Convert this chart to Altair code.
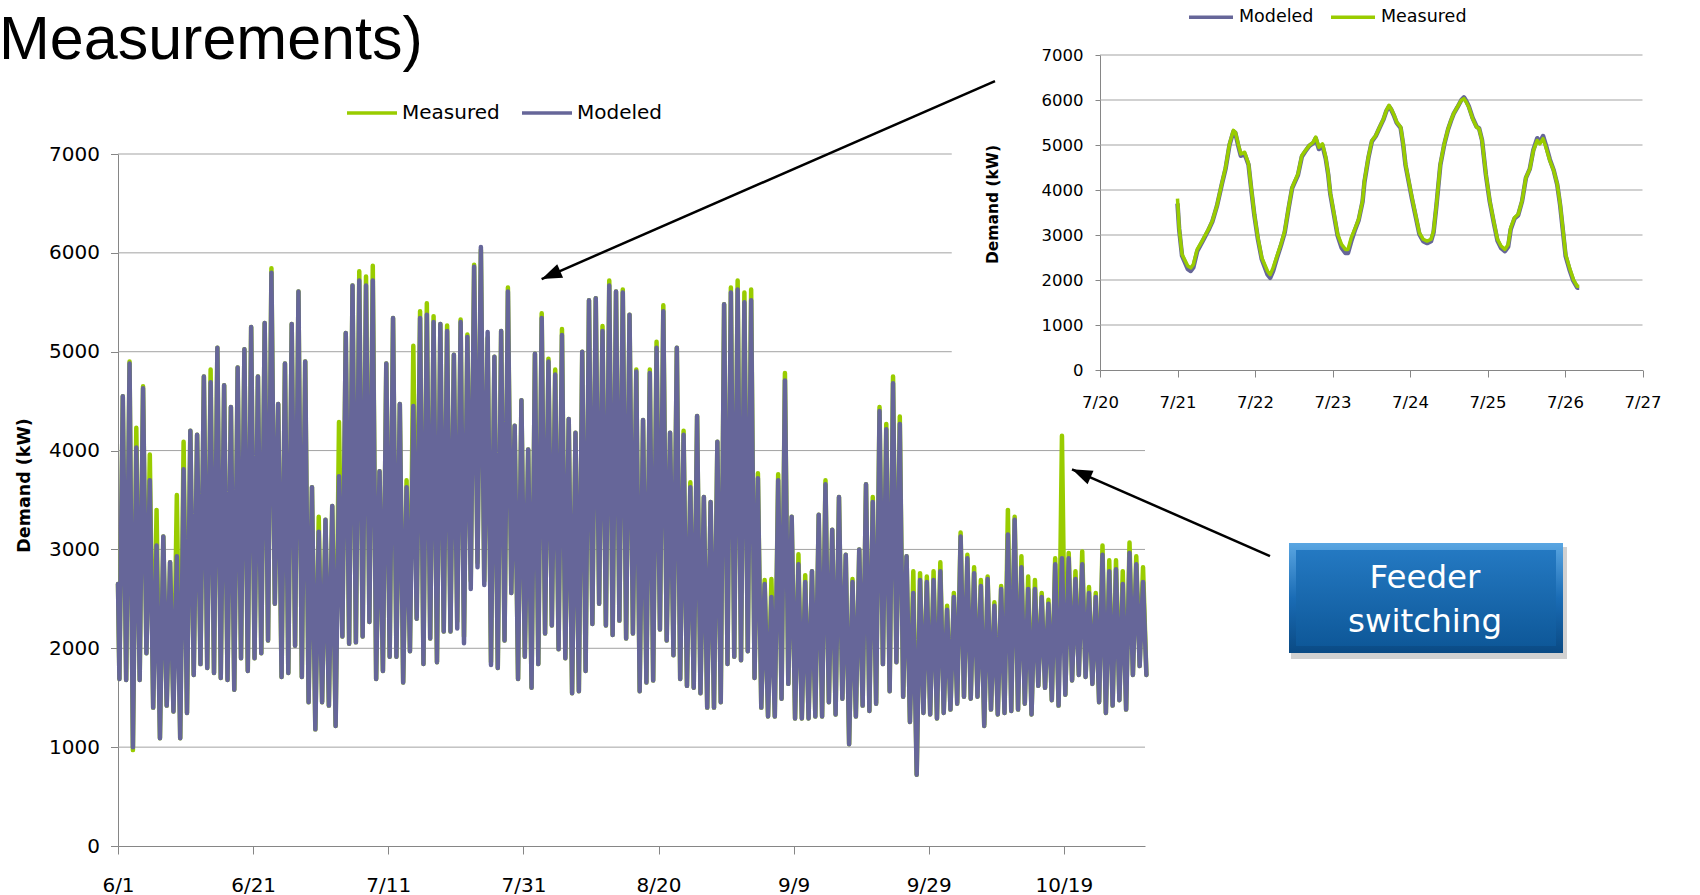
import json
import math

import altair as alt
import pandas as pd

# ---------------------------------------------------------------------------
# Feeder demand, 6/1 - 10/31: one trough (early morning) and one peak
# (late afternoon) per day, in kW.  Index 0 is 6/1.
# ---------------------------------------------------------------------------
MODELED_LOW = [
    1690, 1680, 1000, 1680, 1950, 1400, 1090, 1420, 1360, 1090,
    1345, 1730, 1840, 1800, 1750, 1700, 1680, 1580, 1900, 1770,
    1900, 1950, 2080, 2450, 1710, 1750, 2025, 1710, 1455, 1180,
    1455, 1420, 1215, 2120, 2045, 2060, 2120, 2265, 1690, 1770,
    1915, 1915, 1655, 1970, 2300, 1840, 2100, 1860, 2170, 2170,
    2200, 2050, 2600, 2820, 2640, 1830, 1800, 2080, 2560, 1690,
    1915, 1600, 1840, 2150, 2230, 1990, 1900, 1545, 1565, 1770,
    2245, 2450, 2230, 2135, 2280, 2100, 2150, 1565, 1655, 1675,
    2190, 2080, 1930, 1690, 1620, 1600, 1545, 1400, 1400, 1455,
    1840, 1915, 1880, 1970, 1700, 1400, 1310, 1310, 1490, 1640,
    1290, 1290, 1290, 1310, 1310, 1455, 1330, 1490, 1030, 1310,
    1420, 1365, 1440, 1840, 1565, 1860, 1510, 1255, 720, 1345,
    1330, 1290, 1345, 1380, 1440, 1510, 1490, 1510, 1215, 1380,
    1330, 1345, 1365, 1380, 1440, 1330, 1620, 1600, 1475, 1420,
    1530, 1675, 1730, 1710, 1640, 1455, 1345, 1420, 1475, 1380,
    1730, 1820,
]
MODELED_HIGH = [
    4550, 4880, 4030, 4630, 3700, 3040, 3130, 2870, 2930, 3810,
    4200, 4160, 4750, 4690, 5040, 4660, 4440, 4840, 5025, 5250,
    4750, 5290, 5800, 4470, 4880, 5280, 5610, 4900, 3630, 3180,
    3300, 3440, 3740, 5190, 5670, 5720, 5670, 5720, 3790, 4880,
    5340, 4470, 3630, 4450, 5340, 5375, 5300, 5280, 5210, 4970,
    5300, 5150, 5860, 6060, 5200, 4950, 5210, 5610, 4250, 4510,
    4010, 4980, 5340, 4900, 4770, 5170, 4320, 4180, 5000, 5520,
    5540, 5210, 5670, 5610, 5600, 5375, 4800, 4310, 4785, 5040,
    5410, 4180, 5040, 4160, 3630, 4350, 3530, 3480, 4090, 5480,
    5600, 5630, 5500, 5520, 3720, 2650, 2520, 3700, 4710, 3330,
    2850, 2670, 2780, 3350, 3660, 3200, 3530, 2945, 2670, 3000,
    3660, 3480, 4400, 4215, 4680, 4270, 2930, 2560, 2690, 2670,
    2690, 2780, 2390, 2520, 3130, 2910, 2760, 2630, 2700, 2430,
    2600, 3150, 3300, 2820, 2600, 2600, 2520, 2450, 2850, 2910,
    2910, 2700, 2850, 2560, 2520, 2945, 2780, 2800, 2650, 2965,
    2850, 2670,
]
MEASURED_LOW = [
    1690, 1680, 970, 1680, 1950, 1400, 1090, 1420, 1360, 1090,
    1345, 1730, 1840, 1800, 1750, 1700, 1680, 1580, 1900, 1770,
    1900, 1950, 2080, 2450, 1710, 1750, 2025, 1710, 1455, 1180,
    1455, 1420, 1215, 2120, 2045, 2060, 2120, 2265, 1690, 1770,
    1915, 1915, 1655, 1970, 2300, 1840, 2100, 1860, 2170, 2170,
    2270, 2120, 2680, 2865, 2680, 1860, 1800, 2080, 2560, 1690,
    1915, 1600, 1840, 2150, 2230, 1990, 1900, 1545, 1565, 1770,
    2245, 2450, 2230, 2135, 2280, 2100, 2150, 1565, 1655, 1675,
    2190, 2080, 1930, 1690, 1620, 1600, 1545, 1400, 1400, 1455,
    1840, 1915, 1880, 1970, 1700, 1400, 1310, 1310, 1490, 1640,
    1290, 1290, 1290, 1310, 1310, 1455, 1330, 1490, 1030, 1310,
    1420, 1365, 1440, 1840, 1565, 1860, 1510, 1255, 720, 1345,
    1330, 1290, 1345, 1380, 1440, 1510, 1490, 1510, 1215, 1380,
    1330, 1345, 1365, 1380, 1440, 1330, 1620, 1600, 1475, 1420,
    1530, 1675, 1730, 1710, 1640, 1455, 1345, 1420, 1475, 1380,
    1730, 1820,
]
MEASURED_HIGH = [
    4550, 4900, 4230, 4650, 3960, 3400, 3130, 2870, 3550, 4090,
    4200, 4160, 4750, 4820, 5040, 4660, 4440, 4840, 5025, 5250,
    4750, 5290, 5845, 4470, 4880, 5280, 5610, 4900, 3630, 3330,
    3300, 3440, 4290, 5190, 5670, 5815, 5760, 5870, 3790, 4880,
    5340, 4470, 3700, 5060, 5410, 5490, 5360, 5280, 5265, 4970,
    5325, 5175, 5880, 6030, 5140, 4950, 5210, 5650, 4250, 4510,
    4010, 4980, 5390, 4930, 4820, 5230, 4320, 4180, 5000, 5520,
    5540, 5260, 5720, 5610, 5630, 5375, 4820, 4310, 4820, 5100,
    5470, 4180, 5040, 4200, 3680, 4350, 3530, 3480, 4090, 5480,
    5650, 5720, 5600, 5630, 3770, 2690, 2700, 3760, 4785, 3330,
    2950, 2740, 2780, 3350, 3700, 3200, 3530, 2945, 2700, 3000,
    3660, 3530, 4440, 4270, 4750, 4345, 2930, 2780, 2760, 2725,
    2780, 2870, 2430, 2560, 3170, 2945, 2820, 2690, 2725, 2465,
    2630, 3400, 3330, 2930, 2725, 2690, 2560, 2490, 2910, 4150,
    2965, 2780, 2980, 2620, 2560, 3040, 2890, 2890, 2780, 3070,
    2930, 2820,
]
FIRST_KW = 2650   # 6/1 00:00
LAST_KW = 1730    # final reading
TROUGH_HOUR = 5
PEAK_HOUR = 17

MAIN_TICK_DAYS = [0, 20, 40, 60, 80, 100, 120, 140]
MAIN_TICK_LABELS = ["6/1", "6/21", "7/11", "7/31", "8/20", "9/9", "9/29", "10/19"]
KW_TICKS = [0, 1000, 2000, 3000, 4000, 5000, 6000, 7000]
MAIN_GRID_KW = [1000, 2000, 3000, 4000, 5000, 6000, 7000]
MAIN_GRID_END_DAY = [152, 152, 152, 152, 123.4, 123.4, 123.4]

# ---------------------------------------------------------------------------
# Close-up, 7/21 - 7/26: hours after 7/21 00:00 and demand in kW
# ---------------------------------------------------------------------------
INSET_HOURS = [
    0, 0.5, 1.4, 3.2, 4.1, 4.9, 6.1, 7.9, 9.6, 10.8,
    12.2, 13.8, 14.9, 16.1, 17.3, 17.9, 18.8, 19.6, 20.8, 22.0,
    22.8, 23.8, 24.9, 26.1, 27.9, 28.7, 29.6, 30.8, 32.0, 33.2,
    34.4, 35.5, 37.3, 38.5, 39.6, 40.8, 42.0, 42.8, 43.8, 44.9,
    45.9, 46.7, 47.3, 48.5, 49.6, 50.8, 52.0, 52.8, 53.8, 54.9,
    56.1, 57.3, 57.9, 59.1, 60.2, 61.4, 62.6, 63.8, 64.7, 65.5,
    66.1, 67.1, 67.9, 69.1, 69.9, 70.6, 71.4, 72.6, 73.8, 74.9,
    76.1, 77.3, 78.5, 79.3, 80.2, 81.4, 82.6, 83.8, 84.7, 85.5,
    86.7, 87.9, 88.7, 89.4, 90.2, 91.4, 92.6, 93.4, 94.3, 95.5,
    96.7, 97.9, 99.1, 100.2, 101.4, 102.4, 103.2, 104.4, 105.5, 106.7,
    107.9, 109.1, 110.2, 111.4, 112.2, 113.2, 114.1, 115.3, 116.5, 117.6,
    118.5, 119.3, 120.2, 121.4, 122.6, 123.8, 124.4,
]
INSET_MEASURED = [
    3810, 3165, 2570, 2310, 2270, 2345, 2680, 2905, 3130, 3315,
    3650, 4170, 4505, 5025, 5325, 5285, 5025, 4800, 4840, 4580,
    4060, 3460, 2940, 2495, 2195, 2120, 2270, 2530, 2790, 3090,
    3610, 4060, 4355, 4765, 4875, 4990, 5060, 5175, 4950, 5025,
    4730, 4355, 3945, 3460, 3015, 2790, 2680, 2680, 2940, 3130,
    3350, 3760, 4205, 4730, 5100, 5210, 5400, 5585, 5770, 5880,
    5810, 5660, 5510, 5400, 5025, 4580, 4280, 3835, 3425, 3050,
    2905, 2865, 2905, 3090, 3685, 4580, 5025, 5360, 5550, 5695,
    5845, 5995, 6030, 5955, 5845, 5585, 5400, 5360, 5100, 4355,
    3760, 3315, 2905, 2755, 2680, 2790, 3165, 3390, 3460, 3760,
    4280, 4465, 4875, 5100, 5025, 5140, 4950, 4655, 4430, 4130,
    3685, 3165, 2570, 2270, 2010, 1860, 1860,
]
INSET_MODELED = [
    3700, 3140, 2540, 2240, 2200, 2280, 2640, 2880, 3110, 3300,
    3640, 4150, 4480, 5000, 5300, 5270, 4990, 4760, 4800, 4560,
    4040, 3440, 2910, 2460, 2120, 2050, 2200, 2490, 2760, 3060,
    3590, 4040, 4330, 4740, 4860, 4980, 5040, 5150, 4910, 4990,
    4700, 4330, 3920, 3430, 2980, 2720, 2600, 2600, 2860, 3100,
    3330, 3740, 4180, 4710, 5080, 5200, 5390, 5570, 5760, 5860,
    5800, 5640, 5490, 5380, 5000, 4560, 4260, 3810, 3400, 3020,
    2860, 2820, 2860, 3060, 3660, 4560, 5010, 5350, 5540, 5690,
    5840, 6000, 6060, 5980, 5860, 5600, 5410, 5370, 5110, 4340,
    3740, 3290, 2870, 2710, 2640, 2740, 3130, 3370, 3440, 3750,
    4270, 4470, 4890, 5150, 5060, 5200, 4990, 4680, 4440, 4120,
    3660, 3130, 2530, 2230, 1980, 1830, 1830,
]
INSET_TICK_DAYS = [0, 1, 2, 3, 4, 5, 6, 7]
INSET_TICK_LABELS = ["7/20", "7/21", "7/22", "7/23", "7/24", "7/25", "7/26", "7/27"]
INSET_GRID_KW = [1000, 2000, 3000, 4000, 5000, 6000, 7000]

# Call-out arrows (main-chart coordinates: day index, kW)
ARROW_TAIL_DAY = [129.8, 170.5]
ARROW_TAIL_KW = [7738, 2933]
ARROW_TIP_DAY = [62.7, 141.2]
ARROW_TIP_KW = [5735, 3810]

TITLE_TEXT = "Measurements)"
CALLOUT_LINES = ["Feeder", "switching"]

# ---------------------------------------------------------------------------
# Styling / layout
# ---------------------------------------------------------------------------
FONT = "DejaVu Sans"
AXIS_GREY = "#868686"
GRID_GREY = "#a3a3a3"
GREEN = "#99cc00"
PURPLE = "#666699"

PLOT_W, PLOT_H = 1027, 692
DAY_MAX, KW_MAX = 152, 7000
PAD = {"left": 118, "top": 154, "right": 555, "bottom": 49}

INSET_X_RANGE = [982, 1524.5]
INSET_Y_RANGE = [216, -99]


def label_expr(values, labels):
    return f"{json.dumps(labels)}[indexof({json.dumps(values)}, datum.value)]"


def daily_profile(lows, highs, first, last, name):
    rows = [(0.0, first)]
    for d, (lo, hi) in enumerate(zip(lows, highs)):
        rows.append((d + TROUGH_HOUR / 24, lo))
        rows.append((d + PEAK_HOUR / 24, hi))
    rows.append((len(lows) + TROUGH_HOUR / 24, last))
    df = pd.DataFrame(rows, columns=["day", "kw"])
    df["series"] = name
    return df


measured_df = daily_profile(MEASURED_LOW, MEASURED_HIGH, FIRST_KW, LAST_KW, "Measured")
modeled_df = daily_profile(MODELED_LOW, MODELED_HIGH, FIRST_KW, LAST_KW, "Modeled")

main_x_scale = alt.Scale(domain=[0, DAY_MAX], nice=False, zero=False)
main_y_scale = alt.Scale(domain=[0, KW_MAX], nice=False)

label_style = dict(labelFont=FONT, labelColor="black", domainColor=AXIS_GREY,
                   tickColor=AXIS_GREY, domainWidth=1, tickWidth=1,
                   labelFlush=False, labelOverlap=False, grid=False)

main_x_axis = alt.Axis(values=MAIN_TICK_DAYS, labelExpr=label_expr(MAIN_TICK_DAYS, MAIN_TICK_LABELS),
                       title=None, tickSize=8, labelPadding=21, labelFontSize=20, **label_style)
main_y_axis = alt.Axis(values=KW_TICKS, format="d", tickSize=7.5, labelPadding=11, labelFontSize=20,
                       title="Demand (kW)", titleFont=FONT, titleFontSize=17.5, titleFontWeight="bold",
                       titleColor="black", titleAngle=270, titleAlign="center", titleBaseline="middle",
                       titleX=-94, titleY=331, **label_style)

main_legend = alt.Legend(title=None, orient="none", legendX=227, legendY=-68, direction="horizontal",
                         symbolType="stroke", symbolSize=2500, symbolStrokeWidth=3.5,
                         labelFont=FONT, labelFontSize=20, labelColor="black",
                         labelOffset=3, columnPadding=15)
main_color = alt.Color("series:N", scale=alt.Scale(domain=["Measured", "Modeled"], range=[GREEN, PURPLE]),
                       legend=main_legend)

main_x = alt.X("day:Q", scale=main_x_scale, axis=main_x_axis)
main_y = alt.Y("kw:Q", scale=main_y_scale, axis=main_y_axis)

main_grid = alt.Chart(pd.DataFrame({"kw": MAIN_GRID_KW, "day": 0, "day_end": MAIN_GRID_END_DAY})).mark_rule(
    color=GRID_GREY, strokeWidth=1).encode(x=main_x, x2="day_end:Q", y=main_y)

line_style = dict(strokeWidth=4.5, strokeJoin="round", strokeCap="round")
measured_line = alt.Chart(measured_df).mark_line(**line_style).encode(x=main_x, y=main_y, color=main_color)
modeled_line = alt.Chart(modeled_df).mark_line(**line_style).encode(x=main_x, y=main_y, color=main_color)

# arrows pointing from the close-up and from the call-out box
px_day = PLOT_W / DAY_MAX
px_kw = PLOT_H / KW_MAX
arrow_df = pd.DataFrame({"day": ARROW_TAIL_DAY, "kw": ARROW_TAIL_KW,
                         "day2": ARROW_TIP_DAY, "kw2": ARROW_TIP_KW})
head_angle = []
for td, tk, hd, hk in zip(ARROW_TAIL_DAY, ARROW_TAIL_KW, ARROW_TIP_DAY, ARROW_TIP_KW):
    dx = (hd - td) * px_day
    dy = -(hk - tk) * px_kw
    head_angle.append(math.degrees(math.atan2(dx, -dy)) % 360)
head_df = pd.DataFrame({"day": ARROW_TIP_DAY, "kw": ARROW_TIP_KW, "angle": head_angle})

arrow_lines = alt.Chart(arrow_df).mark_rule(color="black", strokeWidth=2.5).encode(
    x=main_x, y=main_y, x2="day2:Q", y2="kw2:Q")
arrow_heads = alt.Chart(head_df).mark_point(
    shape="M0,0 L-0.6,1.65 L0.6,1.65 Z", filled=True, size=600, color="black", opacity=1,
    strokeWidth=0).encode(x=main_x, y=main_y, angle=alt.Angle("angle:Q", scale=None))

main = alt.layer(main_grid, measured_line, modeled_line, arrow_lines, arrow_heads)

# ---------------------------------------------------------------------------
# Close-up chart
# ---------------------------------------------------------------------------
inset_days = [1 + h / 24 for h in INSET_HOURS]
inset_measured_df = pd.DataFrame({"day": inset_days, "kw": INSET_MEASURED, "series": "Measured"})
inset_modeled_df = pd.DataFrame({"day": inset_days, "kw": INSET_MODELED, "series": "Modeled"})

inset_x_scale = alt.Scale(domain=[0, 7], range=INSET_X_RANGE, nice=False, zero=False)
inset_y_scale = alt.Scale(domain=[0, KW_MAX], range=INSET_Y_RANGE, nice=False)

inset_x_axis = alt.Axis(orient="bottom", offset=INSET_Y_RANGE[0] - PLOT_H, values=INSET_TICK_DAYS,
                        labelExpr=label_expr(INSET_TICK_DAYS, INSET_TICK_LABELS), title=None,
                        tickSize=7, labelPadding=17, labelFontSize=16.5, **label_style)
inset_y_axis = alt.Axis(orient="left", offset=-INSET_X_RANGE[0], values=KW_TICKS, format="d",
                        tickSize=5, labelPadding=12, labelFontSize=16.5,
                        title="Demand (kW)", titleFont=FONT, titleFontSize=15.5, titleFontWeight="bold",
                        titleColor="black", titleAngle=270, titleAlign="center", titleBaseline="middle",
                        titleX=-108, titleY=50, **label_style)
inset_legend = alt.Legend(title=None, orient="none", legendX=1069, legendY=-161, direction="horizontal",
                          symbolType="stroke", symbolSize=1936, symbolStrokeWidth=3.5,
                          labelFont=FONT, labelFontSize=17.5, labelColor="black",
                          labelOffset=4, columnPadding=10)
inset_color = alt.Color("series:N", scale=alt.Scale(domain=["Modeled", "Measured"], range=[PURPLE, GREEN]),
                        legend=inset_legend)
inset_x = alt.X("day:Q", scale=inset_x_scale, axis=inset_x_axis)
inset_y = alt.Y("kw:Q", scale=inset_y_scale, axis=inset_y_axis)

inset_grid = alt.Chart(pd.DataFrame({"kw": INSET_GRID_KW, "day": INSET_TICK_DAYS[0],
                                     "day_end": INSET_TICK_DAYS[-1]})).mark_rule(
    color=GRID_GREY, strokeWidth=1).encode(x=inset_x, x2="day_end:Q", y=inset_y)
inset_modeled = alt.Chart(inset_modeled_df).mark_line(strokeWidth=4.5, strokeJoin="round").encode(
    x=inset_x, y=inset_y, color=inset_color)
inset_measured = alt.Chart(inset_measured_df).mark_line(strokeWidth=3.5, strokeJoin="round").encode(
    x=inset_x, y=inset_y, color=inset_color)

inset = alt.layer(inset_grid, inset_modeled, inset_measured)

# ---------------------------------------------------------------------------
# Slide heading and call-out box
# ---------------------------------------------------------------------------
one_row = pd.DataFrame({"k": [0]})
heading = alt.Chart(pd.DataFrame({"text": [TITLE_TEXT]})).mark_text(
    font="Liberation Sans", fontSize=61, align="left", baseline="alphabetic", color="black").encode(
    text="text:N", x=alt.value(-119), y=alt.value(-95))

box_x0, box_x1, box_y0, box_y1 = 1171, 1445, 389, 499
shadow = alt.Chart(one_row).mark_rect(color="black", opacity=0.18).encode(
    x=alt.value(box_x0 + 2), x2=alt.value(box_x1 + 4), y=alt.value(box_y0 + 4), y2=alt.value(box_y1 + 6))
outer = alt.Chart(one_row).mark_rect(
    color=alt.Gradient(gradient="linear", x1=0, x2=0, y1=0, y2=1,
                       stops=[alt.GradientStop(offset=0, color="#5aa6e2"),
                              alt.GradientStop(offset=0.5, color="#1a6cb5"),
                              alt.GradientStop(offset=1, color="#0a4a84")])).encode(
    x=alt.value(box_x0), x2=alt.value(box_x1), y=alt.value(box_y0), y2=alt.value(box_y1))
inner = alt.Chart(one_row).mark_rect(
    color=alt.Gradient(gradient="linear", x1=0, x2=0, y1=0, y2=1,
                       stops=[alt.GradientStop(offset=0, color="#2479c2"),
                              alt.GradientStop(offset=1, color="#0e5899")])).encode(
    x=alt.value(box_x0 + 7), x2=alt.value(box_x1 - 7), y=alt.value(box_y0 + 7), y2=alt.value(box_y1 - 7))
callout_df = pd.DataFrame({"text": CALLOUT_LINES, "line": [0, 1]})
callout_text_1 = alt.Chart(callout_df.iloc[[0]]).mark_text(
    font=FONT, fontSize=32.5, color="white", align="center", baseline="alphabetic").encode(
    text="text:N", x=alt.value(1307), y=alt.value(434))
callout_text_2 = alt.Chart(callout_df.iloc[[1]]).mark_text(
    font=FONT, fontSize=32.5, color="white", align="center", baseline="alphabetic").encode(
    text="text:N", x=alt.value(1307), y=alt.value(478))

chart = alt.layer(
    main, inset, heading, shadow, outer, inner, callout_text_1, callout_text_2
).resolve_scale(
    x="independent", y="independent", color="independent"
).properties(
    width=PLOT_W, height=PLOT_H, padding=PAD, autosize=alt.AutoSizeParams(type="none")
).configure(background="white").configure_view(stroke=None)

chart.save("out.html", embed_options={"renderer": "svg", "actions": False})
